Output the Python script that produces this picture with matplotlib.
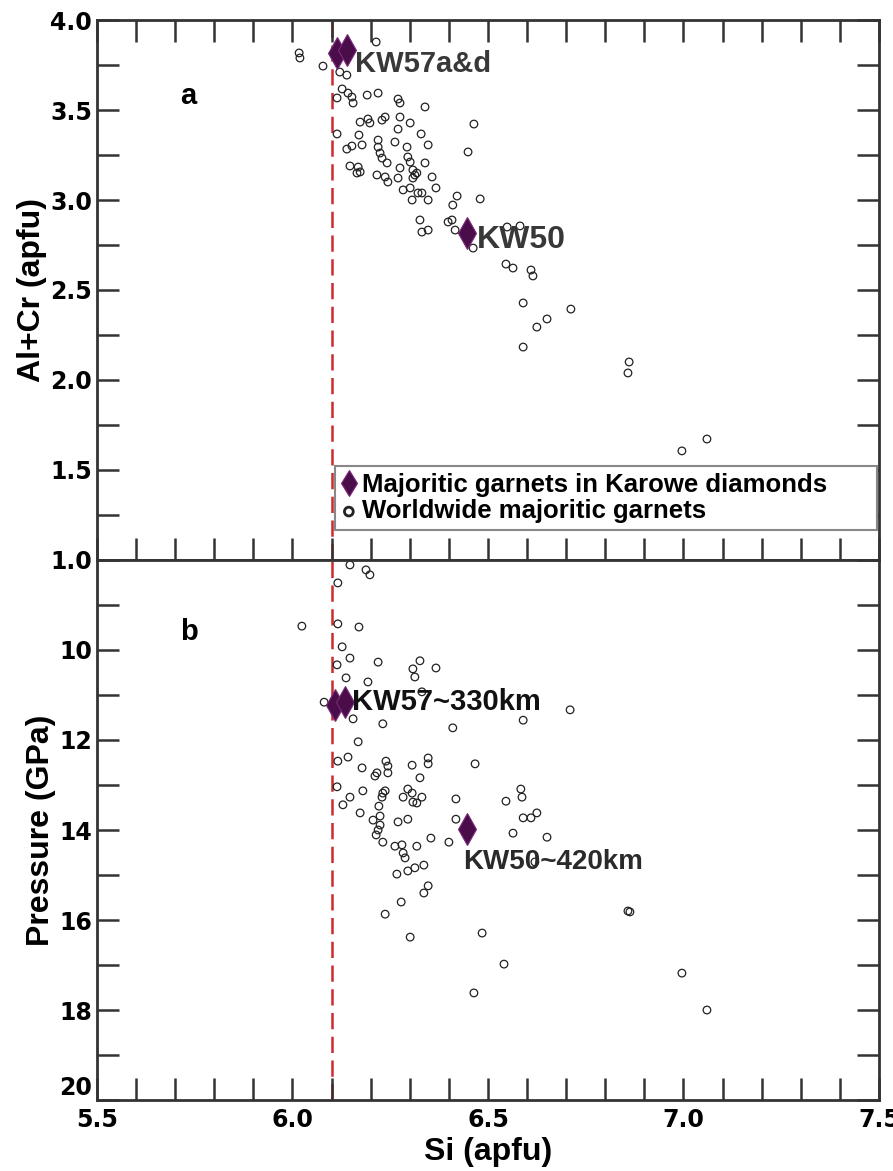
import numpy as np
import matplotlib
matplotlib.use("Agg")
import matplotlib.pyplot as plt
from matplotlib.ticker import MultipleLocator

# ---- data ----
# panel a: worldwide majoritic garnets, Si vs Al+Cr (apfu)
world_si_a = [6.017, 6.019, 6.078, 6.214, 6.121, 6.139, 6.127, 6.142, 6.152, 6.155,
              6.114, 6.191, 6.219, 6.270, 6.275, 6.339, 6.464, 6.173, 6.193, 6.198,
              6.237, 6.229, 6.275, 6.301, 6.270, 6.114, 6.170, 6.219, 6.262, 6.329,
              6.449, 6.139, 6.152, 6.178, 6.219, 6.224, 6.293, 6.347, 6.229, 6.242,
              6.147, 6.173, 6.168, 6.295, 6.301, 6.275, 6.308, 6.318, 6.339, 6.357,
              6.216, 6.237, 6.244, 6.270, 6.165, 6.313, 6.308, 6.283, 6.301, 6.321,
              6.331, 6.306, 6.347, 6.367, 6.421, 6.410, 6.480, 6.326, 6.331, 6.347,
              6.398, 6.416, 6.462, 6.408, 6.549, 6.582, 6.546, 6.564, 6.610, 6.615,
              6.590, 6.712, 6.651, 6.625, 6.590, 6.861, 6.858, 7.060, 6.996]
world_alcr = [3.817, 3.789, 3.744, 3.878, 3.711, 3.694, 3.617, 3.594, 3.572, 3.539,
              3.567, 3.583, 3.594, 3.561, 3.539, 3.517, 3.422, 3.433, 3.450, 3.428,
              3.461, 3.444, 3.461, 3.428, 3.394, 3.367, 3.361, 3.333, 3.322, 3.367,
              3.267, 3.283, 3.300, 3.306, 3.294, 3.261, 3.294, 3.306, 3.233, 3.206,
              3.189, 3.156, 3.183, 3.239, 3.211, 3.178, 3.167, 3.150, 3.206, 3.128,
              3.139, 3.128, 3.100, 3.122, 3.150, 3.139, 3.122, 3.056, 3.067, 3.039,
              3.039, 3.000, 3.000, 3.067, 3.022, 2.972, 3.006, 2.889, 2.822, 2.833,
              2.878, 2.833, 2.733, 2.889, 2.850, 2.856, 2.644, 2.622, 2.611, 2.578,
              2.428, 2.394, 2.339, 2.294, 2.183, 2.100, 2.039, 1.672, 1.606]

# Karowe garnets (KW57a, KW57d, KW50)
karowe_si_a = [6.114, 6.139, 6.446]
karowe_alcr = [3.817, 3.833, 2.817]

# panel b: worldwide majoritic garnets, Si vs pressure (GPa)
world_si_b = [6.147, 6.188, 6.198, 6.116, 6.024, 6.116, 6.170, 6.127, 6.147, 6.114,
              6.219, 6.326, 6.308, 6.313, 6.367, 6.137, 6.193, 6.331, 6.081, 6.155,
              6.231, 6.410, 6.168, 6.710, 6.590, 6.467, 6.418, 6.418, 6.546, 6.584,
              6.587, 6.590, 6.610, 6.625, 6.564, 6.651, 6.116, 6.142, 6.178, 6.216,
              6.211, 6.239, 6.244, 6.244, 6.306, 6.347, 6.347, 6.326, 6.114, 6.180,
              6.147, 6.129, 6.231, 6.237, 6.229, 6.295, 6.306, 6.283, 6.308, 6.318,
              6.331, 6.173, 6.221, 6.224, 6.206, 6.224, 6.219, 6.214, 6.270, 6.295,
              6.354, 6.400, 6.231, 6.262, 6.280, 6.318, 6.283, 6.288, 6.336, 6.267,
              6.295, 6.313, 6.347, 6.336, 6.278, 6.237, 6.301, 6.485, 6.620, 6.858,
              6.863, 6.541, 6.464, 6.996, 7.060]
world_p = [8.11, 8.22, 8.33, 8.51, 9.47, 9.42, 9.49, 9.93, 10.18, 10.33,
           10.27, 10.24, 10.42, 10.60, 10.40, 10.62, 10.71, 10.93, 11.16, 11.53,
           11.64, 11.73, 12.04, 11.33, 11.56, 12.53, 13.31, 13.76, 13.36, 13.09,
           13.27, 13.73, 13.73, 13.62, 14.07, 14.16, 12.47, 12.38, 12.62, 12.73,
           12.80, 12.47, 12.58, 12.73, 12.56, 12.40, 12.53, 12.84, 13.04, 13.13,
           13.27, 13.44, 13.18, 13.13, 13.27, 13.09, 13.18, 13.27, 13.38, 13.40,
           13.27, 13.62, 13.47, 13.69, 13.78, 13.89, 14.00, 14.11, 13.82, 13.76,
           14.18, 14.27, 14.27, 14.36, 14.33, 14.36, 14.51, 14.62, 14.78, 14.98,
           14.91, 14.84, 15.24, 15.40, 15.60, 15.87, 16.38, 16.29, 14.71, 15.80,
           15.82, 16.98, 17.62, 17.18, 18.00]

karowe_si_b = [6.109, 6.134, 6.446]
karowe_p = [11.22, 11.16, 13.98]

si_cutoff = 6.1

# ---- styling ----
DIAMOND = "#4a0d4a"
SPINE = "#333333"
TICKFONT = {"family": "DejaVu Sans", "weight": "bold", "size": 17}
LABELFONT = {"family": "Liberation Sans", "weight": "bold", "size": 23}
ANNOT = {"family": "Liberation Sans", "weight": "bold", "size": 21}

fig = plt.figure(figsize=(8.93, 11.71), dpi=100)
ax1 = fig.add_axes([0.1086, 0.5218, 0.8757, 0.4611])
ax2 = fig.add_axes([0.1086, 0.0606, 0.8757, 0.4612])

for ax in (ax1, ax2):
    ax.set_xlim(5.5, 7.5)
    ax.xaxis.set_major_locator(MultipleLocator(0.5))
    ax.xaxis.set_minor_locator(MultipleLocator(0.1))
    for s in ax.spines.values():
        s.set_linewidth(2)
        s.set_color(SPINE)
    ax.tick_params(which="both", direction="in", length=16, width=1.8,
                   color=SPINE, left=True, right=True)
    ax.axvline(si_cutoff, color="#cc2a2e", lw=1.8, ls=(0, (6.5, 3)), zorder=1)

# panel a
ax1.scatter(world_si_a, world_alcr, s=30, facecolors="none", edgecolors="#222222",
            linewidths=0.9, zorder=2, label="Worldwide majoritic garnets")
ax1.plot(karowe_si_a, karowe_alcr, "d", ms=16, color=DIAMOND, mec="#7a2a7a",
         mew=0.8, zorder=3, ls="none", label="Majoritic garnets in Karowe diamonds")
ax1.set_ylim(1.0, 4.0)
ax1.yaxis.set_minor_locator(MultipleLocator(0.25))
ax1.tick_params(which="both", top=True, bottom=True, labelbottom=False)
ax1.set_yticks(np.arange(1.0, 4.01, 0.5))
ax1.set_yticklabels([f"{v:.1f}" for v in np.arange(1.0, 4.01, 0.5)], fontdict=TICKFONT)
ax1.set_ylabel("Al+Cr (apfu)", fontdict=LABELFONT, labelpad=2)
ax1.text(0.106, 0.86, "a", transform=ax1.transAxes, fontdict=ANNOT, va="center")
ax1.text(6.16, 3.756, "KW57a&d", fontdict=ANNOT, color="#383838", va="center")
ax1.text(6.472, 2.78, "KW50", fontdict=dict(ANNOT, size=23), color="#383838", va="center")

h, l = ax1.get_legend_handles_labels()
leg = ax1.legend(h[::-1], l[::-1], loc="lower left",
                 bbox_to_anchor=(0.304, 0.056, 0.693, 0.125), mode="expand",
                 prop={"family": "Liberation Sans", "weight": "bold", "size": 18.5},
                 handlelength=0.6, handletextpad=0.2, borderpad=0.25,
                 labelspacing=0.1, borderaxespad=0, fancybox=False, framealpha=1,
                 edgecolor="#888888")
leg.get_frame().set_linewidth(1.5)
leg.legend_handles[0].set_markersize(13)
leg.legend_handles[1].set_sizes([40])
leg.legend_handles[1].set_linewidth(2)

# panel b
ax2.scatter(world_si_b, world_p, s=30, facecolors="none", edgecolors="#222222",
            linewidths=0.9, zorder=2)
ax2.plot(karowe_si_b, karowe_p, "d", ms=16, color=DIAMOND, mec="#7a2a7a",
         mew=0.8, zorder=3, ls="none")
ax2.set_ylim(20, 8)
ax2.set_yticks(np.arange(10, 21, 2))
ax2.set_yticklabels([str(v) for v in range(10, 21, 2)], fontdict=TICKFONT)
ax2.get_yticklabels()[-1].set_verticalalignment("bottom")
ax2.yaxis.set_minor_locator(MultipleLocator(1))
ax2.tick_params(which="both", top=False, bottom=True)
ax2.tick_params(axis="x", pad=6)
ax2.set_xticks(np.arange(5.5, 7.51, 0.5))
ax2.set_xticklabels([f"{v:.1f}" for v in np.arange(5.5, 7.51, 0.5)], fontdict=TICKFONT)
ax2.set_xlabel("Si (apfu)", fontdict=LABELFONT, labelpad=3)
ax2.set_ylabel("Pressure (GPa)", fontdict=LABELFONT, labelpad=2)
ax2.text(0.106, 0.867, "b", transform=ax2.transAxes, fontdict=ANNOT, va="center")
ax2.text(6.152, 11.16, "KW57~330km", fontdict=ANNOT, color="#111111", va="center")
ax2.text(6.436, 14.71, "KW50~420km", fontdict=dict(ANNOT, size=20), color="#2a2a2a",
         va="center")

fig.savefig("out.png", dpi=100)
